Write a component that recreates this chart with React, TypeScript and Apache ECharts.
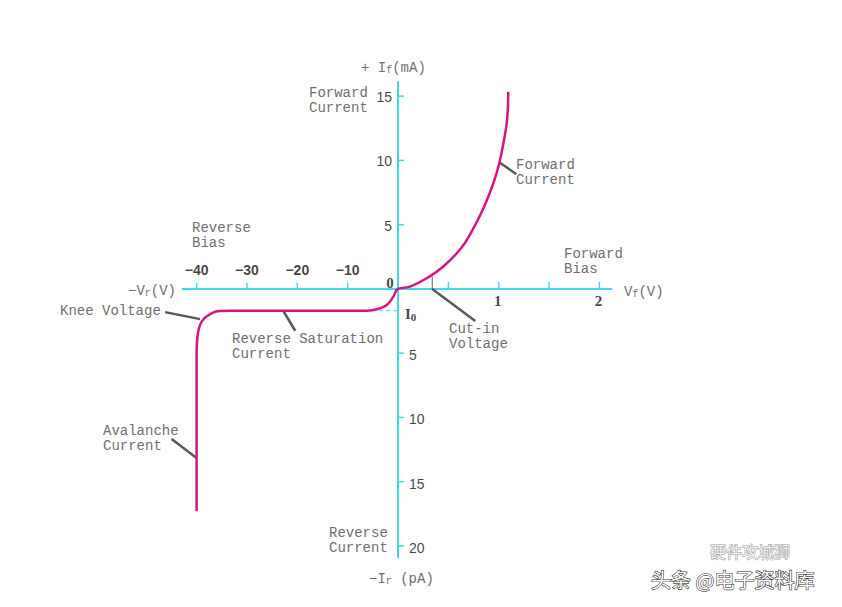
import React, { useEffect, useRef } from "react";
import * as echarts from "echarts";

// Forward branch: voltage (V) vs current (mA)
const forwardV = [0, 0.12, 0.32, 0.45, 0.62, 0.72, 0.85, 0.95, 1.006, 1.046, 1.085, 1.095];
const forwardI = [0, 0.18, 1.0, 1.74, 3.1, 4.3, 6.3, 8.3, 9.8, 11.3, 13.3, 15.35];
// Reverse branch: voltage (V) vs reverse current (pA, magnitude)
const reverseV = [0, -0.93, -2.24, -4.2, -6.2, -12, -22, -33.0, -35.5, -37.0, -38.5, -39.4, -39.85, -40.0, -40.0];
const reverseI = [0, 0.6, 1.25, 1.58, 1.69, 1.7, 1.7, 1.7, 1.72, 1.9, 2.3, 2.9, 3.8, 4.9, 17.3];

// Tick values
const negVTicks = [-40, -30, -20, -10];
const posVTicks = [0.5, 1, 1.5, 2];
const posVLabels = [1, 2];
const fwdITicks = [5, 10, 15];
const revITicks = [5, 10, 15, 20];

const satCurrent = 1.7; // I0 level in pA
const satDashFrom = -6.5; // V
const cutInV = 0.34;
const cutInI = 0.95;

// Leader lines: anchor [V, I] (I negative = reverse pA) + pixel offset
const leaders: [number, number, number, number][] = [
  [-39.3, -2.35, -35, -7],
  [-22.8, -1.7, 12, 20],
  [cutInV, 0, 43, 32],
  [-40.0, -13.15, -25, -19],
  [1.006, 9.86, 17, 12],
];

const toX = (v: number) => (v < 0 ? v / 20 : v);

const CYAN = "#3fd6f0";
const CURVE = "#d9137f";
const GRAY = "#595959";
const TXT = "#707070";
const MONO = "'Liberation Mono', 'Courier New', monospace";
const SANS = "'Liberation Sans', Arial, sans-serif";
const SERIF = "'Liberation Serif', 'Times New Roman', serif";

export default function App() {
  const ref = useRef<HTMLDivElement>(null);
  useEffect(() => {
    if (!ref.current) return;
    const chart = echarts.init(ref.current, null, { renderer: "svg" });

    const curve: number[][] = [];
    for (let i = reverseV.length - 1; i >= 0; i--) curve.push([toX(reverseV[i]), -reverseI[i]]);
    for (let i = 1; i < forwardV.length; i++) curve.push([toX(forwardV[i]), forwardI[i]]);

    const tickData: number[][] = [];
    negVTicks.forEach((v) => tickData.push([toX(v), 0, 0, 6]));
    posVTicks.forEach((v) => tickData.push([toX(v), 0, 0, 7]));
    fwdITicks.forEach((v) => tickData.push([0, v, 1, 6]));
    revITicks.forEach((v) => tickData.push([0, -v, 1, 6]));

    const monoText = (x: number, y: number, text: string) => ({
      type: "text",
      x,
      y,
      style: {
        text,
        fill: TXT,
        font: `14px ${MONO}`,
        lineHeight: 15,
        verticalAlign: "top",
      },
    });

    const subText = (x: number, y: number, pre: string, sub: string, post: string, align = "left") => ({
      type: "text",
      x,
      y,
      style: {
        text: `{a|${pre}}{s|${sub}}{a|${post}}`,
        align,
        verticalAlign: "middle",
        rich: {
          a: { fontFamily: MONO, fontSize: 14, fill: TXT, color: TXT, verticalAlign: "middle" },
          s: { fontFamily: MONO, fontSize: 10, fill: TXT, color: TXT, padding: [5, 0, 0, 0] },
        },
      },
    });

    const option: any = {
      animation: false,
      backgroundColor: "#ffffff",
      grid: { left: 182.5, right: 230.5, top: 82, bottom: 49.5 },
      xAxis: {
        type: "value",
        min: -2.14,
        max: 2.12,
        axisLine: { show: true, onZero: true, lineStyle: { color: CYAN, width: 2 } },
        axisTick: { show: false },
        axisLabel: { show: false },
        splitLine: { show: false },
      },
      yAxis: {
        type: "value",
        min: -20.9,
        max: 16.1,
        axisLine: { show: true, onZero: true, lineStyle: { color: CYAN, width: 2 } },
        axisTick: { show: false },
        axisLabel: { show: false },
        splitLine: { show: false },
      },
      series: [
        {
          type: "custom",
          silent: true,
          encode: { x: 0, y: 1 },
          renderItem: (_p: any, api: any) => {
            const pt = api.coord([api.value(0), api.value(1)]);
            const dir = api.value(2);
            const len = api.value(3);
            return {
              type: "line",
              shape: {
                x1: pt[0],
                y1: pt[1],
                x2: dir === 0 ? pt[0] : pt[0] + len,
                y2: dir === 0 ? pt[1] - len : pt[1],
              },
              style: { stroke: CYAN, lineWidth: 1.5 },
            };
          },
          data: tickData,
        },
        {
          type: "line",
          data: [
            [toX(satDashFrom), -satCurrent],
            [0, -satCurrent],
          ],
          showSymbol: false,
          lineStyle: { color: CYAN, width: 1.2, type: [4, 3] },
          z: 2,
        },
        {
          type: "line",
          data: [
            [toX(cutInV), 0],
            [toX(cutInV), cutInI],
          ],
          showSymbol: false,
          lineStyle: { color: GRAY, width: 1 },
          z: 2,
        },
        {
          type: "custom",
          silent: true,
          encode: { x: 0, y: 1 },
          renderItem: (_p: any, api: any) => {
            const pt = api.coord([api.value(0), api.value(1)]);
            return {
              type: "line",
              shape: { x1: pt[0], y1: pt[1], x2: pt[0] + api.value(2), y2: pt[1] + api.value(3) },
              style: { stroke: GRAY, lineWidth: 2.5 },
            };
          },
          data: leaders.map((l) => [toX(l[0]), l[1], l[2], l[3]]),
          z: 3,
        },
        {
          type: "line",
          data: curve,
          showSymbol: false,
          smooth: 0.45,
          lineStyle: { color: CURVE, width: 2.5 },
          z: 5,
        },
        // tick labels
        {
          type: "scatter",
          symbolSize: 0,
          data: negVTicks.map((v) => ({ value: [toX(v), 0], name: String(v) })),
          label: {
            show: true,
            position: "inside",
            offset: [0, -19],
            formatter: (p: any) => "\u2212" + String(Math.abs(Number(p.name))),
            color: "#111",
            fontFamily: SANS,
            fontWeight: "bold",
            fontSize: 14,
          },
        },
        {
          type: "scatter",
          symbolSize: 0,
          data: posVLabels.map((v) => ({ value: [toX(v), 0], name: String(v) })),
          label: {
            show: true,
            position: "inside",
            offset: [-1, 12],
            formatter: "{b}",
            color: "#111",
            fontFamily: SERIF,
            fontWeight: "bold",
            fontSize: 15,
          },
        },
        {
          type: "scatter",
          symbolSize: 0,
          data: [{ value: [0, 0], name: "0" }],
          label: {
            show: true,
            position: "inside",
            offset: [-8, -6],
            formatter: "{b}",
            color: "#111",
            fontFamily: SERIF,
            fontWeight: "bold",
            fontSize: 15,
          },
        },
        {
          type: "scatter",
          symbolSize: 0,
          data: fwdITicks.map((v) => ({ value: [0, v], name: String(v) })),
          label: {
            show: true,
            position: "left",
            distance: 6,
            offset: [0, 1],
            formatter: "{b}",
            color: "#111",
            fontFamily: SANS,
            fontSize: 14,
          },
        },
        {
          type: "scatter",
          symbolSize: 0,
          data: revITicks.map((v) => ({ value: [0, -v], name: String(v) })),
          label: {
            show: true,
            position: "right",
            distance: 11,
            offset: [0, 2],
            formatter: "{b}",
            color: "#111",
            fontFamily: SANS,
            fontSize: 14,
          },
        },
        {
          type: "scatter",
          symbolSize: 0,
          data: [{ value: [0, -satCurrent], name: "I0" }],
          label: {
            show: true,
            position: "right",
            distance: 7,
            offset: [0, 3],
            formatter: "{i|I}{z|0}",
            rich: {
              i: { fontFamily: SERIF, fontWeight: "bold", fontSize: 15, color: "#111" },
              z: { fontFamily: SERIF, fontWeight: "bold", fontSize: 11, color: "#111", padding: [6, 0, 0, 0] },
            },
          },
        },
      ],
      graphic: [
        monoText(309, 85.5, "Forward\nCurrent"),
        monoText(516, 157.5, "Forward\nCurrent"),
        monoText(192, 220.5, "Reverse\nBias"),
        monoText(564, 246.5, "Forward\nBias"),
        monoText(60, 303, "Knee Voltage"),
        monoText(232, 331, "Reverse Saturation\nCurrent"),
        monoText(449, 321, "Cut-in\nVoltage"),
        monoText(103, 423, "Avalanche\nCurrent"),
        monoText(329, 525, "Reverse\nCurrent"),
        subText(361, 68, "+ I", "f", "(mA)"),
        subText(176, 291, "\u2212V", "r", "(V)", "right"),
        subText(624, 292, "V", "f", "(V)"),
        subText(369, 579, "\u2212I", "r", " (pA)"),
        {
          type: "text",
          x: 710,
          y: 551,
          style: {
            text: "硬件攻城狮",
            fill: "#f2f2f2",
            stroke: "#999",
            lineWidth: 1,
            font: `16px 'Noto Sans CJK SC', sans-serif`,
            verticalAlign: "middle",
          },
        },
        {
          type: "text",
          x: 651,
          y: 579,
          style: {
            text: "头条 @电子资料库",
            fill: "#ffffff",
            stroke: "#333",
            lineWidth: 1.2,
            font: `20px 'Noto Sans CJK SC', sans-serif`,
            verticalAlign: "middle",
          },
        },
      ],
    };

    chart.setOption(option);
    return () => chart.dispose();
  }, []);

  return (
    <div
      ref={ref}
      style={{ position: "absolute", left: 0, top: 0, width: 842, height: 607, background: "#fff" }}
    />
  );
}
